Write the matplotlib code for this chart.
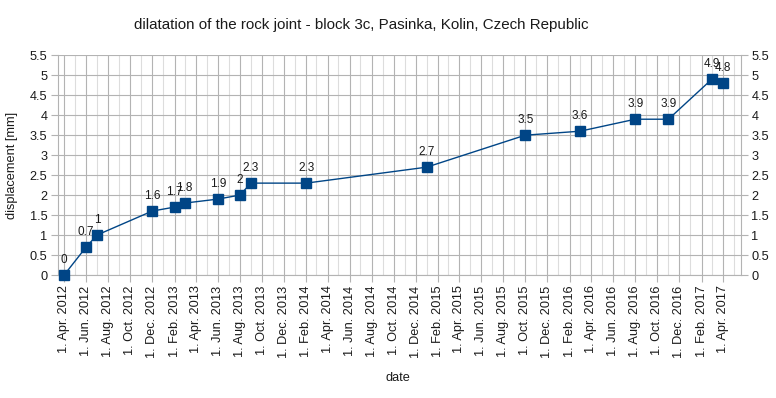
import matplotlib
matplotlib.use("Agg")
import matplotlib.pyplot as plt
import matplotlib.dates as mdates
import numpy as np
import pandas as pd

# --- data ---
dates = ["2012-04-01", "2012-06-01", "2012-07-01", "2012-12-01", "2013-02-01",
         "2013-03-01", "2013-06-01", "2013-08-01", "2013-09-01", "2014-02-01",
         "2015-01-01", "2015-10-01", "2016-03-01", "2016-08-01", "2016-11-01",
         "2017-03-01", "2017-04-01"]
displacement = [0, 0.7, 1, 1.6, 1.7, 1.8, 1.9, 2, 2.3, 2.3, 2.7, 3.5, 3.6, 3.9, 3.9, 4.9, 4.8]
labels = ["0", "0.7", "1", "1.6", "1.7", "1.8", "1.9", "2", "2.3", "2.3",
          "2.7", "3.5", "3.6", "3.9", "3.9", "4.9", "4.8"]

x = pd.to_datetime(dates)

plt.rcParams['font.family'] = ['Liberation Sans', 'DejaVu Sans']

fig = plt.figure(figsize=(7.76, 3.98), dpi=100)
ax = fig.add_axes([58 / 776, 1 - 275 / 398, (741 - 58) / 776, (275 - 55.3) / 398])

line_col = '#004586'
ax.plot(x, displacement, color=line_col, linewidth=1, marker='s', markersize=6.5,
        markerfacecolor=line_col, markeredgecolor=line_col, clip_on=False, zorder=3)

for xi, yi, lab in zip(x, displacement, labels):
    ax.annotate(lab, (xi, yi), xytext=(0, 6.5), textcoords='offset points',
                ha='center', va='bottom', fontsize=8.5, color='#1a1a1a')

ax.set_xlim(pd.Timestamp("2012-03-15"), pd.Timestamp("2017-05-21"))
ax.set_ylim(0, 5.5)
ax.set_yticks(np.arange(0, 5.51, 0.5))
ax.set_yticklabels([f"{v:g}" for v in np.arange(0, 5.51, 0.5)])

ax.xaxis.set_major_locator(mdates.MonthLocator(bymonth=[2, 4, 6, 8, 10, 12], bymonthday=1))
ax.xaxis.set_minor_locator(mdates.MonthLocator(bymonthday=1))
ax.xaxis.set_major_formatter(mdates.DateFormatter('1. %b. %Y'))
plt.setp(ax.get_xticklabels(), rotation=90, ha='center', va='top')

ax.grid(True, which='major', color='#b3b3b3', linewidth=0.8)
ax.grid(True, which='minor', axis='x', color='#dddddd', linewidth=0.8)
ax.set_axisbelow(True)

ax.tick_params(axis='both', which='major', labelsize=9.2, color='#b3b3b3', length=5,
               labelcolor='#1a1a1a', pad=2.5)
ax.tick_params(axis='x', which='minor', length=0)
ax.tick_params(axis='y', right=True, labelright=True)
for s in ax.spines.values():
    s.set_color('#b3b3b3')
ax.spines['top'].set_visible(False)

fig.text(361 / 776, 1 - 25 / 398, "dilatation of the rock joint - block 3c, Pasinka, Kolin, Czech Republic",
         ha='center', va='center', fontsize=10.9, color='#1a1a1a')
fig.text(12 / 776, 1 - 165 / 398, "displacement [mm]", rotation=90, ha='center', va='center',
         fontsize=9.2, color='#1a1a1a')
fig.text(398 / 776, 1 - 378 / 398, "date", ha='center', va='center', fontsize=9.2, color='#1a1a1a')

fig.savefig("out.png", dpi=100)
